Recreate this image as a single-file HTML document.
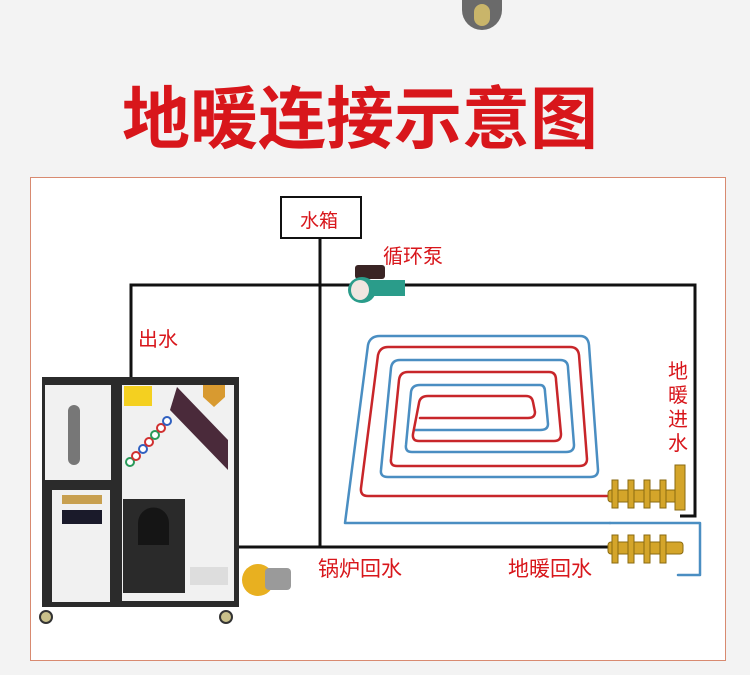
<!DOCTYPE html>
<html><head><meta charset="utf-8"><style>
body{margin:0;width:750px;height:675px;background:#f3f3f3;position:relative;overflow:hidden;font-family:"Liberation Sans","Noto Sans CJK SC",sans-serif}
.t{position:absolute;color:#d8161b;white-space:nowrap}
</style></head><body>
<div style="position:absolute;left:462px;top:0;width:40px;height:30px;border-radius:0 0 20px 20px;background:#6a6a6a"></div>
<div style="position:absolute;left:474px;top:4px;width:16px;height:22px;border-radius:8px;background:#c9b56a"></div>
<div class="t" style="left:122px;top:64px;font-size:68px;font-weight:bold;letter-spacing:0px">地暖连接示意图</div>
<div style="position:absolute;left:30px;top:177px;width:694px;height:482px;background:#fff;border:1px solid #d88a70"></div>
<svg style="position:absolute;left:0;top:0" width="750" height="675">
<g fill="none" stroke="#111" stroke-width="3">
<polyline points="131,378 131,285 695,285 695,516 680,516"/>
<line x1="320" y1="238" x2="320" y2="547"/>
<line x1="238" y1="547" x2="610" y2="547"/>
</g>
<rect x="281" y="197" width="80" height="41" fill="#fff" stroke="#111" stroke-width="2"/>
<g fill="none" stroke-width="2.5" stroke-linejoin="round" stroke-linecap="round">
<path stroke="#4a8ec2" d="M610,523 H345 L368,345 Q370,336 380,336 H580 Q588,336 589,345 L598,470 Q598,477 590,477 H388 Q380,477 381,470 L391,368 Q392,360 400,360 H560 Q568,360 568,368 L574,445 Q574,452 566,452 H412 Q405,452 406,445 L411,392 Q412,385 420,385 H540 Q545,385 545,392 L548,424 Q548,430 540,430 H415"/>
<path stroke="#c8262a" d="M610,496 H368 Q360,496 361,488 L378,355 Q380,347 388,347 H570 Q578,347 579,355 L587,459 Q587,466 579,466 H397 Q390,466 391,459 L399,380 Q400,372 408,372 H549 Q556,372 556,380 L561,434 Q561,441 554,441 H419 Q412,441 413,434 L419,403 Q420,396 428,396 H526 Q532,396 533,402 L535,412 Q535,418 528,418 H420"/>
<polyline stroke="#4a8ec2" points="610,523 660,523 700,523 700,575 678,575"/>
</g>
<g fill="#d4a52a" stroke="#8a6a10" stroke-width="1">
<rect x="608" y="490" width="75" height="12" rx="3"/>
<rect x="608" y="542" width="75" height="12" rx="3"/>
<rect x="675" y="465" width="10" height="45"/>
<rect x="612" y="480" width="6" height="28"/><rect x="628" y="480" width="6" height="28"/><rect x="644" y="480" width="6" height="28"/><rect x="660" y="480" width="6" height="28"/>
<rect x="612" y="535" width="6" height="28"/><rect x="628" y="535" width="6" height="28"/><rect x="644" y="535" width="6" height="28"/><rect x="660" y="535" width="6" height="28"/>
</g>
<rect x="355" y="265" width="30" height="14" rx="3" fill="#3a2424"/>
<ellipse cx="362" cy="290" rx="14" ry="13" fill="#2a9c8a"/>
<ellipse cx="360" cy="290" rx="9" ry="10" fill="#f0e6e0"/>
<rect x="370" y="280" width="35" height="16" fill="#2a9c8a"/>
<rect x="42" y="377" width="197" height="230" fill="#2b2b2b"/>
<rect x="45" y="385" width="66" height="95" fill="#f1f1f1"/>
<rect x="68" y="405" width="12" height="60" rx="6" fill="#777"/>
<rect x="52" y="490" width="58" height="112" fill="#f1f1f1"/>
<rect x="62" y="495" width="40" height="9" fill="#c8a050"/>
<rect x="62" y="510" width="40" height="14" fill="#1a1a2a"/>
<rect x="122" y="385" width="112" height="216" fill="#f1f1f1"/>
<rect x="124" y="386" width="28" height="20" fill="#f4d020"/>
<polygon points="177,387 228,440 228,470 170,410" fill="#4a2a3a"/>
<path d="M203,385 h22 v12 l-11,10 l-11,-10z" fill="#d89a30"/>
<g fill="#fff" stroke-width="2"><circle cx="130" cy="462" r="4" stroke="#2a9a5a"/><circle cx="136" cy="456" r="4" stroke="#d03030"/><circle cx="143" cy="449" r="4" stroke="#3060c0"/><circle cx="149" cy="442" r="4" stroke="#d03030"/><circle cx="155" cy="435" r="4" stroke="#2a9a5a"/><circle cx="161" cy="428" r="4" stroke="#d03030"/><circle cx="167" cy="421" r="4" stroke="#3060c0"/></g>
<rect x="123" y="499" width="62" height="94" fill="#2a2a2a"/>
<path d="M138,545 v-22 a15,15 0 0 1 31,0 v22z" fill="#151515"/>
<rect x="190" y="567" width="38" height="18" fill="#ddd"/>
<circle cx="46" cy="617" r="6" fill="#c9c08a" stroke="#333" stroke-width="2"/>
<circle cx="226" cy="617" r="6" fill="#c9c08a" stroke="#333" stroke-width="2"/>
<circle cx="258" cy="580" r="16" fill="#e8b020"/>
<rect x="265" y="568" width="26" height="22" rx="4" fill="#9a9a9a"/>
</svg>
<div class="t" style="left:300px;top:206px;font-size:19px">水箱</div>
<div class="t" style="left:383px;top:240px;font-size:20px">循环泵</div>
<div class="t" style="left:138px;top:323px;font-size:20px">出水</div>
<div class="t" style="left:668px;top:360px;font-size:20px;width:22px;line-height:24px;white-space:normal">地暖进水</div>
<div class="t" style="left:318px;top:553px;font-size:21px">锅炉回水</div>
<div class="t" style="left:508px;top:553px;font-size:21px">地暖回水</div>
</body></html>
